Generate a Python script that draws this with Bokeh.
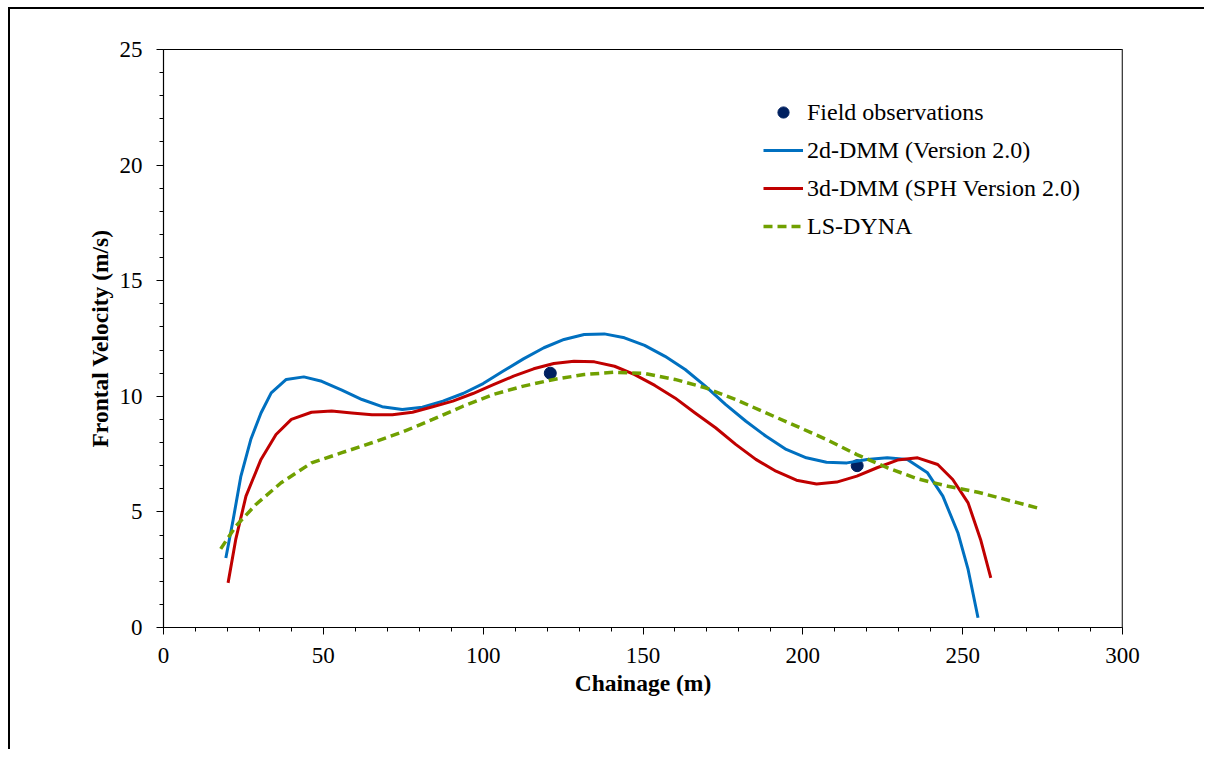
from bokeh.plotting import figure
from bokeh.models import Range1d, Legend, LegendItem, Span, FixedTicker
from bokeh.embed import file_html
from bokeh.resources import INLINE

# ---- data ----
obs_x = [121, 217]
obs_y = [11.0, 7.0]

dmm2d_x = [19.5, 21.8, 24.2, 27.3, 30.5, 33.7, 38.4, 43.9, 49.5, 55.8, 62.1, 68.4, 74.7,
           81.0, 87.4, 93.7, 100.0, 106.3, 112.6, 119.0, 125.3, 131.6, 137.9, 144.2,
           150.5, 156.9, 163.2, 169.5, 175.8, 182.2, 188.5, 194.8, 201.1, 207.4, 213.8,
           220.1, 226.4, 232.7, 239.0, 243.8, 248.5, 251.7, 254.8]
dmm2d_y = [3.01, 4.67, 6.54, 8.13, 9.28, 10.15, 10.73, 10.84, 10.65, 10.27, 9.86, 9.55, 9.43,
           9.53, 9.79, 10.12, 10.55, 11.09, 11.62, 12.10, 12.46, 12.67, 12.70, 12.53,
           12.20, 11.73, 11.16, 10.44, 9.65, 8.92, 8.27, 7.70, 7.34, 7.15, 7.12,
           7.27, 7.34, 7.27, 6.69, 5.68, 4.10, 2.51, 0.42]

dmm3d_x = [20.2, 22.6, 25.8, 30.5, 35.2, 40.0, 46.3, 52.6, 58.9, 65.2, 71.6, 77.9, 84.2,
           90.5, 96.8, 103.2, 109.5, 115.8, 122.1, 128.4, 134.8, 141.1, 147.4, 153.7,
           160.0, 166.3, 172.7, 179.0, 185.3, 191.6, 198.0, 204.3, 210.6, 216.9, 223.2,
           229.6, 235.9, 242.2, 246.9, 251.7, 255.6, 258.8]
dmm3d_y = [1.93, 3.81, 5.68, 7.27, 8.35, 9.00, 9.31, 9.36, 9.28, 9.20, 9.20, 9.31, 9.55,
           9.79, 10.12, 10.50, 10.87, 11.19, 11.42, 11.52, 11.49, 11.30, 10.94, 10.47,
           9.93, 9.28, 8.64, 7.92, 7.27, 6.76, 6.37, 6.21, 6.29, 6.55, 6.91,
           7.24, 7.34, 7.05, 6.40, 5.39, 3.81, 2.15]

lsdyna_x = [17.9, 22.6, 28.9, 36.8, 46.3, 55.8, 65.2, 74.7, 84.2, 93.7, 103.2, 112.6,
            122.1, 131.6, 141.1, 150.5, 160.0, 169.5, 179.0, 188.5, 198.0, 207.4, 216.9,
            226.4, 235.9, 245.4, 254.8, 274.0]
lsdyna_y = [3.40, 4.38, 5.32, 6.26, 7.12, 7.56, 7.99, 8.45, 9.00, 9.57, 10.08, 10.44,
            10.73, 10.94, 11.04, 10.99, 10.73, 10.37, 9.86, 9.28, 8.71, 8.13, 7.48,
            6.91, 6.43, 6.11, 5.85, 5.15]

x_ticks = [0, 50, 100, 150, 200, 250, 300]
y_ticks = [0, 5, 10, 15, 20, 25]
x_minor = list(range(0, 301, 10))
y_minor = list(range(0, 26, 1))

FONT = "Liberation Serif"

p = figure(width=1196, height=742, output_backend="svg", toolbar_location=None,
           x_range=Range1d(0, 300), y_range=Range1d(0, 25),
           min_border_left=153, min_border_right=84, min_border_top=40,
           min_border_bottom=124)
p.styles = {"border-left": "2px solid black", "border-top": "2px solid black",
            "margin-left": "8px", "margin-top": "7px"}

p.xgrid.visible = False
p.ygrid.visible = False
p.outline_line_color = "black"
p.outline_line_width = 1
p.background_fill_color = "white"
p.border_fill_color = "white"

for ax in (p.xaxis[0], p.yaxis[0]):
    ax.axis_line_color = "black"
    ax.axis_line_width = 1.2
    ax.major_tick_in = 0
    ax.major_tick_out = 7
    ax.minor_tick_in = 0
    ax.minor_tick_out = 4
    ax.major_tick_line_color = "black"
    ax.minor_tick_line_color = "black"
    ax.major_label_text_font = FONT
    ax.major_label_text_font_size = "23px"
    ax.major_label_text_color = "black"
    ax.axis_label_text_font = FONT
    ax.axis_label_text_font_size = "23.5px"
    ax.axis_label_text_font_style = "bold"
    ax.axis_label_text_color = "black"

p.xaxis.ticker = FixedTicker(ticks=x_ticks, minor_ticks=x_minor)
p.yaxis.ticker = FixedTicker(ticks=y_ticks, minor_ticks=y_minor)
p.xaxis.axis_label = "Chainage (m)"
p.yaxis.axis_label = "Frontal Velocity (m/s)"
p.xaxis.major_label_standoff = 13
p.yaxis.major_label_standoff = 14
p.xaxis.axis_label_standoff = 4
p.yaxis.axis_label_standoff = 4

p.add_layout(Span(location=300, dimension="height", line_color="#808080", line_width=2))

r_obs = p.scatter(obs_x, obs_y, size=12, color="#002060", marker="circle")
r_2d = p.line(dmm2d_x, dmm2d_y, line_color="#0070C0", line_width=3, line_join="round")
r_3d = p.line(dmm3d_x, dmm3d_y, line_color="#C00000", line_width=3, line_join="round")
r_ls = p.line(lsdyna_x, lsdyna_y, line_color="#70A000", line_width=3.5, line_dash="9 5")

legend = Legend(items=[
    LegendItem(label="Field observations", renderers=[r_obs]),
    LegendItem(label="2d-DMM (Version 2.0)", renderers=[r_2d]),
    LegendItem(label="3d-DMM (SPH Version 2.0)", renderers=[r_3d]),
    LegendItem(label="LS-DYNA", renderers=[r_ls]),
], location=(600, 387))
legend.border_line_color = None
legend.background_fill_alpha = 0
legend.padding = 0
legend.margin = 0
legend.spacing = 10
legend.glyph_width = 40
legend.glyph_height = 28
legend.label_height = 28
legend.label_standoff = 4
legend.label_text_font = FONT
legend.label_text_font_size = "24px"
legend.label_text_color = "black"
p.add_layout(legend, "center")

open("out.html", "w").write(file_html(p, INLINE))
